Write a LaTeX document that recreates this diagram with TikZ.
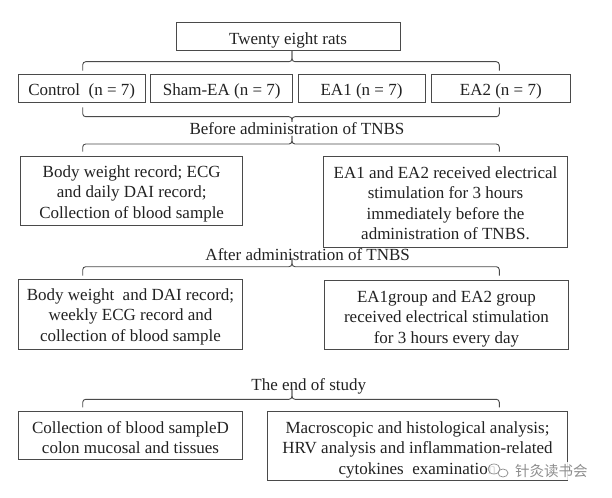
\documentclass[tikz,border=0pt]{standalone}
\usepackage{fontspec}
\setmainfont{Liberation Serif}
\newfontfamily\cjkfont{Noto Sans CJK SC}
\definecolor{ln}{HTML}{4A4A4A}
\definecolor{tx}{HTML}{222222}
\definecolor{wm}{HTML}{8E8E8E}
\newcommand{\Brc}[6]{%
  \draw[bracestyle] (#1,#5) -- (#1,#4) -- (#2,#4) -- (#2,#6);
  \draw[bracestyle] (#2,#6) -- (#2,#4) -- (#3,#4) -- (#3,#5);}
% name, x, y, width, height, text shift down, text
\newcommand{\MkBox}[7]{%
  \node[boxframe, minimum width=#4bp, minimum height=#5bp] (#1) at (#2,#3) {};
  \node[boxtext] (#1t) at ([yshift=-#6bp]#1.center) {#7};}
\tikzset{
  boxframe/.style={draw=ln, line width=0.9bp, inner sep=0pt},
  boxtext/.style={text=tx, inner sep=0pt, align=center,
    font=\fontsize{17bp}{20.5bp}\selectfont},
  lbl/.style={text=tx, inner sep=0pt, font=\fontsize{17bp}{20.5bp}\selectfont},
  bracestyle/.style={draw=ln, line width=0.9bp, rounded corners=3bp}
}
\begin{document}
\begin{tikzpicture}[x=1bp, y=-1bp]
\useasboundingbox[fill=white] (0,0) rectangle (612,498);
% top
\MkBox{top}{288}{36.7}{224}{28}{3.3}{Twenty eight rats}
% groups
\MkBox{ctrl}{81.7}{88}{126.7}{28}{3.3}{Control~ (n = 7)}
\MkBox{sham}{221.7}{88}{142}{28}{3.3}{Sham-EA (n = 7)}
\MkBox{ea1}{361.5}{88}{127}{28}{3.3}{EA1 (n = 7)}
\MkBox{ea2}{500.8}{88}{139}{28}{3.3}{EA2 (n = 7)}
% braces row 1
\Brc{82.7}{292}{499.3}{61.7}{70.7}{51}
\Brc{82.7}{292}{499.3}{116.7}{107.5}{122}
\node[lbl] (before) at (297,128.3) {Before administration of TNBS};
\Brc{82.7}{292}{499.3}{144}{151.7}{136}
% before boxes
\MkBox{ba}{131.7}{190.5}{222}{69}{3.2}
  {Body weight record; ECG\\and daily DAI record;\\Collection of blood sample}
\MkBox{bb}{445.5}{201.7}{244.4}{91.3}{1.6}
  {EA1 and EA2 received electrical\\stimulation for 3 hours\\immediately before the\\administration of TNBS.}
\node[lbl] (after) at (307.7,254.5) {After administration of TNBS};
\Brc{82.7}{292}{499.3}{266.7}{275.5}{258}
% after boxes
\MkBox{ac}{130.5}{314.3}{224.4}{70}{2.6}
  {Body weight~ and DAI record;\\weekly ECG record and\\collection of blood sample}
\MkBox{ad}{446.5}{314.7}{244.4}{69.3}{3.8}
  {EA1group and EA2 group\\received electrical stimulation\\for 3 hours every day}
\node[lbl] (endst) at (308.8,386.5) {The end of study};
\Brc{82.7}{292}{499.3}{399.3}{407.3}{390}
% end boxes
\MkBox{ee}{130.5}{435.2}{224.4}{48.3}{2.6}
  {Collection of blood sampleD\\colon mucosal and tissues}
\MkBox{ef}{417.5}{445.8}{300.4}{69.7}{3.8}
  {Macroscopic and histological analysis;\\HRV analysis and inflammation-related\\cytokines~ examination}
% watermark
\node[fill=white, fill opacity=0.85, inner sep=0pt, minimum width=106bp, minimum height=18bp] (wmbg) at (540,470.5) {};
\draw[wm, line width=0.7bp] (494,469) ellipse [x radius=6bp, y radius=5bp];
\draw[wm, line width=0.7bp] (503,473) ellipse [x radius=5bp, y radius=4bp];
\node[text=wm, inner sep=0pt, font=\cjkfont\fontsize{14.5bp}{14.5bp}\selectfont, anchor=west] (wmtext) at (515,471) {针灸读书会};
\end{tikzpicture}
\end{document}
